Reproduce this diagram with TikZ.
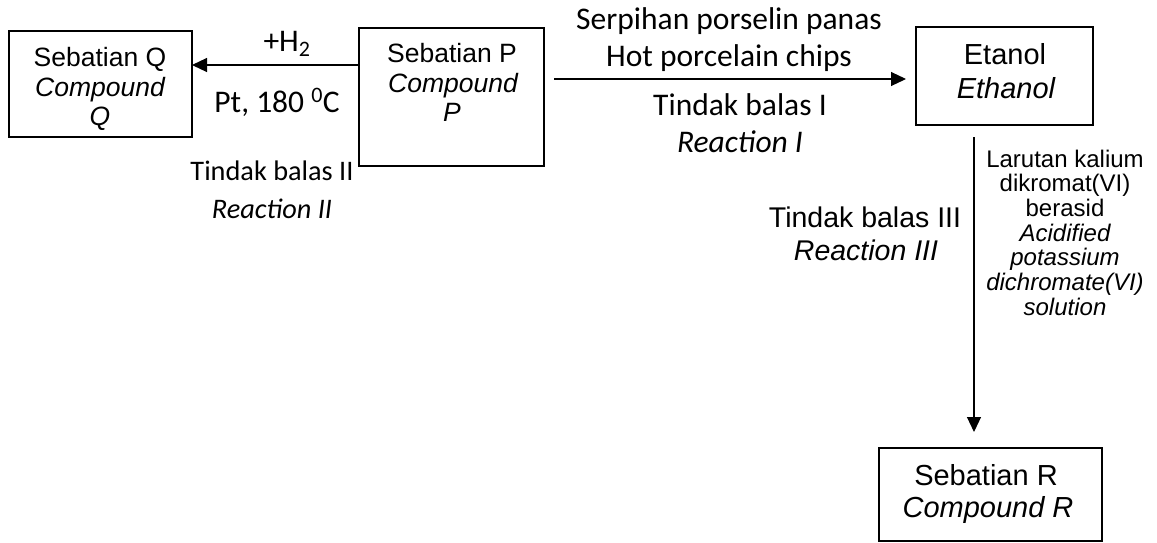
\documentclass[tikz,border=0pt]{standalone}
\usepackage{fontspec}
\setmainfont{Liberation Sans}
\newfontfamily\calib{Carlito}
\usetikzlibrary{arrows.meta}
\begin{document}
\begin{tikzpicture}[x=1pt,y=-1pt,
  box/.style={draw, line width=1.1pt, inner sep=0pt, outer sep=0pt},
  arr/.style={line width=1.1pt, -{Triangle[length=15pt,width=14pt]}},
  txt/.style={inner sep=0pt, outer sep=0pt, anchor=base},
  boxA/.style={txt, font=\fontsize{26.5}{30}\selectfont},
  boxB/.style={txt, font=\fontsize{29}{33}\selectfont},
  calA/.style={txt, font=\calib\fontsize{31.5}{38}\selectfont},
  calB/.style={txt, font=\calib\fontsize{28.3}{34}\selectfont},
  arialC/.style={txt, font=\fontsize{28.5}{33}\selectfont},
  small/.style={txt, font=\fontsize{24}{25}\selectfont}]
\useasboundingbox (0,0) rectangle (1157,542);
% boxes
\node[box, minimum width=183pt, minimum height=106pt] (qbox) at (100.5,84) {};
\node[box, minimum width=185pt, minimum height=138pt] (pbox) at (451.5,97) {};
\node[box, minimum width=177pt, minimum height=98pt] (ebox) at (1004.5,76) {};
\node[box, minimum width=223pt, minimum height=93pt] (rbox) at (990.5,494.5) {};
% box texts
\node[boxA] (q1) at (100,66.5) {Sebatian Q};
\node[boxA] (q2) at (100,96) {\itshape Compound};
\node[boxA] (q3) at (100,125) {\itshape Q};
\node[boxA] (p1) at (452,62) {Sebatian P};
\node[boxA] (p2) at (453,92) {\itshape Compound};
\node[boxA] (p3) at (452,121) {\itshape P};
\node[boxB] (e1) at (1005,64) {Etanol};
\node[boxB] (e2) at (1006,98) {\itshape Ethanol};
\node[boxB] (r1) at (986,485) {Sebatian R};
\node[boxB] (r2) at (988,517) {\itshape Compound R};
% arrows
\coordinate (ya) at (0,65);
\coordinate (yb) at (0,79);
\coordinate (xc) at (974,0);
\draw[arr] (pbox.west |- ya) -- (qbox.east |- ya);
\draw[arr] ([xshift=10pt]pbox.east |- yb) -- ([xshift=-10pt]ebox.west |- yb);
\draw[arr] ([yshift=-12pt]xc |- ebox.south) -- ([yshift=16pt]xc |- rbox.north);
% reaction II labels
\node[calA] (h2) at (287,51) {+H\textsubscript{2}};
\node[calA] (pt) at (277,112) {Pt, 180 \textsuperscript{0}C};
\node[calB] (t2) at (272,180) {Tindak balas II};
\node[calB] (t2e) at (272,218) {\itshape Reaction II};
% reaction I labels
\node[calA] (s1) at (729,29) {Serpihan porselin panas};
\node[calA] (s2) at (729,66) {Hot porcelain chips};
\node[calA] (t1) at (740,115) {Tindak balas I};
\node[calA] (t1e) at (740,152) {\itshape Reaction I};
% reaction III labels
\node[arialC] (t3) at (865,227) {Tindak balas III};
\node[arialC] (t3e) at (866,260) {\itshape Reaction III};
\node[small] (l1) at (1065,167) {Larutan kalium};
\node[small] (l2) at (1065,191.7) {dikromat(VI)};
\node[small] (l3) at (1065,216.4) {berasid};
\node[small] (l4) at (1065,241.1) {\itshape Acidified};
\node[small] (l5) at (1065,265.8) {\itshape potassium};
\node[small] (l6) at (1065,290.5) {\itshape dichromate(VI)};
\node[small] (l7) at (1065,315.2) {\itshape solution};
\end{tikzpicture}
\end{document}
